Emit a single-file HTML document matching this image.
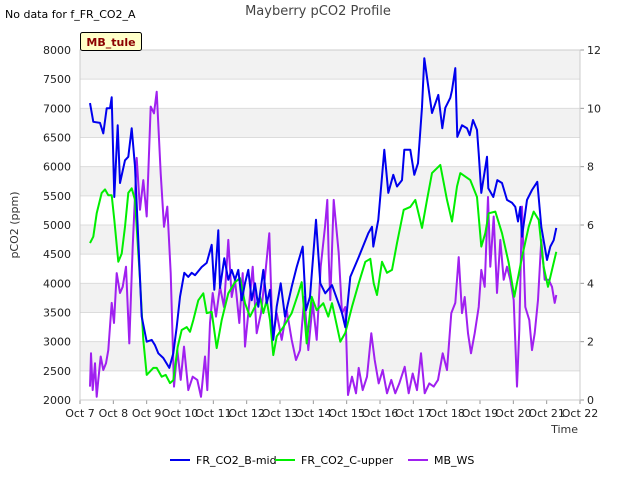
<!DOCTYPE html>
<html><head><meta charset="utf-8"><style>
body{margin:0;background:#fff;font-family:"Liberation Sans","DejaVu Sans",sans-serif;}
svg text{font-family:"DejaVu Sans","Liberation Sans",sans-serif;}
</style></head><body>
<svg id="c" width="640" height="480" viewBox="0 0 640 480">
<text x="5" y="18" font-size="11" fill="#000">No data for f_FR_CO2_A</text>
<text x="318" y="15" font-size="13" fill="#444" text-anchor="middle">Mayberry pCO2 Profile</text>
<g id="bands"></g><g id="grid"></g><g id="series"></g><g id="axes"></g>
<rect x="80.5" y="32.5" width="61" height="18" fill="#ffffc8" stroke="#000" rx="2"/>
<text x="111" y="46" font-size="11" font-weight="bold" fill="#8b0000" text-anchor="middle">MB_tule</text>
<text transform="translate(18,225) rotate(-90)" font-size="11" text-anchor="middle" fill="#333">pCO2 (ppm)</text>
<text x="578" y="433" font-size="11" text-anchor="end" fill="#333">Time</text>
<g>
<line x1="170" y1="460" x2="190" y2="460" stroke="#0000ee" stroke-width="2"/>
<text x="196" y="464" font-size="11">FR_CO2_B-mid</text>
<line x1="275" y1="460" x2="295" y2="460" stroke="#00ee00" stroke-width="2"/>
<text x="301" y="464" font-size="11">FR_CO2_C-upper</text>
<line x1="408" y1="460" x2="428" y2="460" stroke="#a020f0" stroke-width="2"/>
<text x="434" y="464" font-size="11">MB_WS</text>
</g>
</svg>
<script>
const xTickLabels=["Oct 7","Oct 8","Oct 9","Oct 10","Oct 11","Oct 12","Oct 13","Oct 14","Oct 15","Oct 16","Oct 17","Oct 18","Oct 19","Oct 20","Oct 21","Oct 22"];
const yTicksLeft=[2000,2500,3000,3500,4000,4500,5000,5500,6000,6500,7000,7500,8000];
const yTicksRight=[0,2,4,6,8,10,12];
const blueT=[7.3,7.4,7.6,7.7,7.8,7.9,7.95,8.03,8.13,8.2,8.35,8.45,8.55,8.65,8.75,8.85,9.0,9.15,9.25,9.35,9.5,9.68,9.8,9.9,10.0,10.13,10.25,10.35,10.45,10.65,10.8,10.95,11.03,11.15,11.2,11.33,11.45,11.55,11.65,11.75,11.85,11.95,12.05,12.15,12.25,12.35,12.5,12.6,12.7,12.8,12.9,13.02,13.15,13.35,13.5,13.68,13.78,13.9,14.08,14.21,14.36,14.56,14.86,14.96,15.11,15.36,15.65,15.76,15.8,15.95,16.13,16.25,16.4,16.51,16.66,16.73,16.91,17.03,17.14,17.26,17.33,17.56,17.75,17.87,17.96,18.11,18.16,18.26,18.32,18.46,18.61,18.69,18.79,18.91,18.96,19.04,19.21,19.25,19.4,19.52,19.66,19.81,19.96,20.06,20.14,20.21,20.26,20.41,20.56,20.72,20.84,21.01,21.11,21.21,21.29];
const blueV=[7090,6770,6750,6570,7000,7000,7190,5480,6710,5720,6110,6170,6660,6000,4740,3430,3000,3030,2940,2800,2720,2550,2800,3250,3770,4180,4110,4180,4140,4280,4350,4660,3890,4910,3920,4430,4060,4230,4060,4230,3710,4000,4230,3710,4000,3600,4230,3660,3890,3030,3600,4000,3430,3940,4280,4630,3540,3770,5090,4000,3830,3970,3490,3250,4110,4450,4860,4970,4630,5090,6290,5550,5860,5660,5770,6290,6290,5860,6060,7020,7860,6920,7230,6660,7010,7180,7310,7690,6510,6710,6660,6540,6800,6630,6230,5550,6170,5630,5480,5770,5720,5430,5380,5310,5060,5310,4800,5430,5600,5740,4970,4400,4630,4740,4950];
const greenT=[7.3,7.4,7.5,7.65,7.75,7.85,7.95,8.03,8.15,8.25,8.35,8.45,8.55,8.65,8.8,8.9,9.0,9.2,9.3,9.45,9.57,9.7,9.8,9.93,10.05,10.2,10.3,10.4,10.55,10.7,10.8,10.95,11.1,11.25,11.45,11.65,11.8,11.95,12.1,12.25,12.4,12.5,12.6,12.7,12.8,12.9,13.1,13.35,13.55,13.65,13.8,13.95,14.1,14.3,14.45,14.56,14.81,14.96,15.16,15.36,15.56,15.71,15.81,15.91,16.06,16.21,16.36,16.51,16.71,16.91,17.06,17.26,17.41,17.56,17.81,18.01,18.16,18.31,18.41,18.56,18.71,18.91,19.04,19.16,19.26,19.46,19.66,19.86,20.03,20.26,20.46,20.61,20.76,20.91,21.04,21.16,21.29];
const greenV=[4690,4800,5200,5550,5610,5510,5510,5090,4370,4510,4970,5550,5630,5430,4060,3030,2430,2550,2550,2400,2430,2290,2340,2910,3200,3250,3170,3370,3710,3830,3490,3510,2890,3370,3830,4020,4090,3660,3430,3600,3770,3490,3710,3370,2770,3090,3250,3490,3830,4020,2970,3770,3540,3660,3430,3660,3000,3150,3600,4000,4370,4420,4000,3800,4370,4180,4230,4690,5260,5310,5430,4950,5430,5890,6030,5430,5060,5660,5890,5830,5770,5480,4630,4860,5200,5230,4860,4350,3770,4450,4970,5230,5090,4280,3940,4230,4540];
const wsT=[7.3,7.33,7.38,7.45,7.5,7.55,7.62,7.7,7.78,7.85,7.95,8.02,8.1,8.2,8.28,8.38,8.48,8.58,8.7,8.8,8.9,9.0,9.12,9.22,9.3,9.42,9.52,9.62,9.72,9.82,9.92,10.02,10.12,10.25,10.38,10.52,10.63,10.75,10.82,10.9,10.98,11.08,11.2,11.32,11.45,11.55,11.65,11.78,11.88,11.95,12.08,12.18,12.3,12.43,12.55,12.68,12.78,12.9,13.05,13.2,13.35,13.48,13.6,13.73,13.85,13.98,14.1,14.22,14.35,14.42,14.46,14.51,14.61,14.76,14.86,14.96,15.04,15.16,15.28,15.36,15.48,15.61,15.74,15.84,15.96,16.08,16.21,16.34,16.46,16.58,16.74,16.86,16.98,17.11,17.23,17.34,17.48,17.61,17.74,17.88,18.01,18.14,18.26,18.36,18.46,18.54,18.64,18.73,18.84,18.96,19.04,19.14,19.24,19.31,19.41,19.51,19.61,19.71,19.81,19.91,20.01,20.11,20.18,20.26,20.36,20.48,20.56,20.64,20.74,20.84,20.94,21.06,21.16,21.24,21.29];
const wsV=[0.46,1.6,0.34,1.26,0.11,0.69,1.49,1.03,1.26,1.71,3.33,2.64,4.35,3.67,3.88,4.57,1.94,5.26,8.3,6.52,7.54,6.29,10.06,9.83,10.57,7.77,5.94,6.63,4.35,0.46,1.71,0.69,1.83,0.34,0.8,0.69,0.11,1.49,0.34,2.64,3.67,2.86,3.88,3.19,5.49,3.53,4.12,2.64,4.35,1.83,3.33,4.57,2.29,2.98,4.23,5.72,2.06,2.98,2.06,3.09,2.06,1.37,1.71,3.53,1.71,3.33,2.06,4.57,5.94,6.86,4.9,3.43,6.86,5.04,2.98,3.19,0.17,0.8,0.23,1.1,0.34,0.8,2.29,1.37,0.57,1.03,0.23,0.69,0.23,0.57,1.14,0.23,0.91,0.34,1.6,0.23,0.57,0.46,0.69,1.6,1.03,2.98,3.33,4.9,2.98,3.53,2.29,1.6,2.29,3.19,4.46,3.88,6.96,4.57,6.29,3.67,5.49,4.12,4.57,4.12,3.43,0.46,2.4,6.63,3.19,2.74,1.71,2.29,3.43,5.49,4.12,4.12,3.88,3.33,3.6];

const NS="http://www.w3.org/2000/svg";
const L=80,R=580,T=50,B=400;
function xs(d){return L+(d-7)*(R-L)/15;}
function yl(v){return B-(v-2000)*(B-T)/6000;}
function yr(v){return B-v*(B-T)/12;}
function mk(tag,attrs,parent){const e=document.createElementNS(NS,tag);for(const k in attrs)e.setAttribute(k,attrs[k]);document.getElementById(parent).appendChild(e);return e;}

for(let v=2500;v<8000;v+=1000){
  const r=mk('rect',{x:L,y:yl(v+500),width:R-L,height:yl(v)-yl(v+500),fill:'#f2f2f2'},'bands');
  
  
}
yTicksLeft.forEach(v=>{
  const g=mk('line',{x1:L,x2:R,y1:yl(v),y2:yl(v),stroke:'#dcdcdc','stroke-width':1},'grid');
  
  
  const t=mk('text',{x:L-9,y:yl(v)+4,'font-size':11,'text-anchor':'end',fill:'#222'},'axes');
  t.textContent=v;
  
  
});
yTicksRight.forEach(v=>{
  const t=mk('text',{x:R+7,y:yr(v)+4,'font-size':11,fill:'#222'},'axes');
  t.textContent=v;
  
  
  const k=mk('line',{x1:R,x2:R+4,y1:yr(v),y2:yr(v),stroke:'#999'},'axes');
  
  
});
xTickLabels.forEach((s,i)=>{
  const t=mk('text',{x:xs(7+i),y:B+17,'font-size':11,'text-anchor':'middle',fill:'#222'},'axes');
  t.textContent=s;
  
  
  const k=mk('line',{x1:xs(7+i),x2:xs(7+i),y1:B,y2:B+4,stroke:'#999'},'axes');
  
  
});
const frame=mk('rect',{x:L,y:T,width:R-L,height:B-T,fill:'none',stroke:'#ccc'},'axes');



function line(ts,vs,yf,color,name){
  const pts=ts.map((t,i)=>xs(t).toFixed(1)+','+yf(vs[i]).toFixed(1)).join(' ');
  const p=mk('polyline',{points:pts,fill:'none',stroke:color,'stroke-width':2,'stroke-linejoin':'round'},'series');
  
  
}
line(wsT,wsV,yr,'#a020f0','series-mb-ws');
line(greenT,greenV,yl,'#00ee00','series-fr-co2-c-upper');
line(blueT,blueV,yl,'#0000ee','series-fr-co2-b-mid');
</script>
</body></html>
